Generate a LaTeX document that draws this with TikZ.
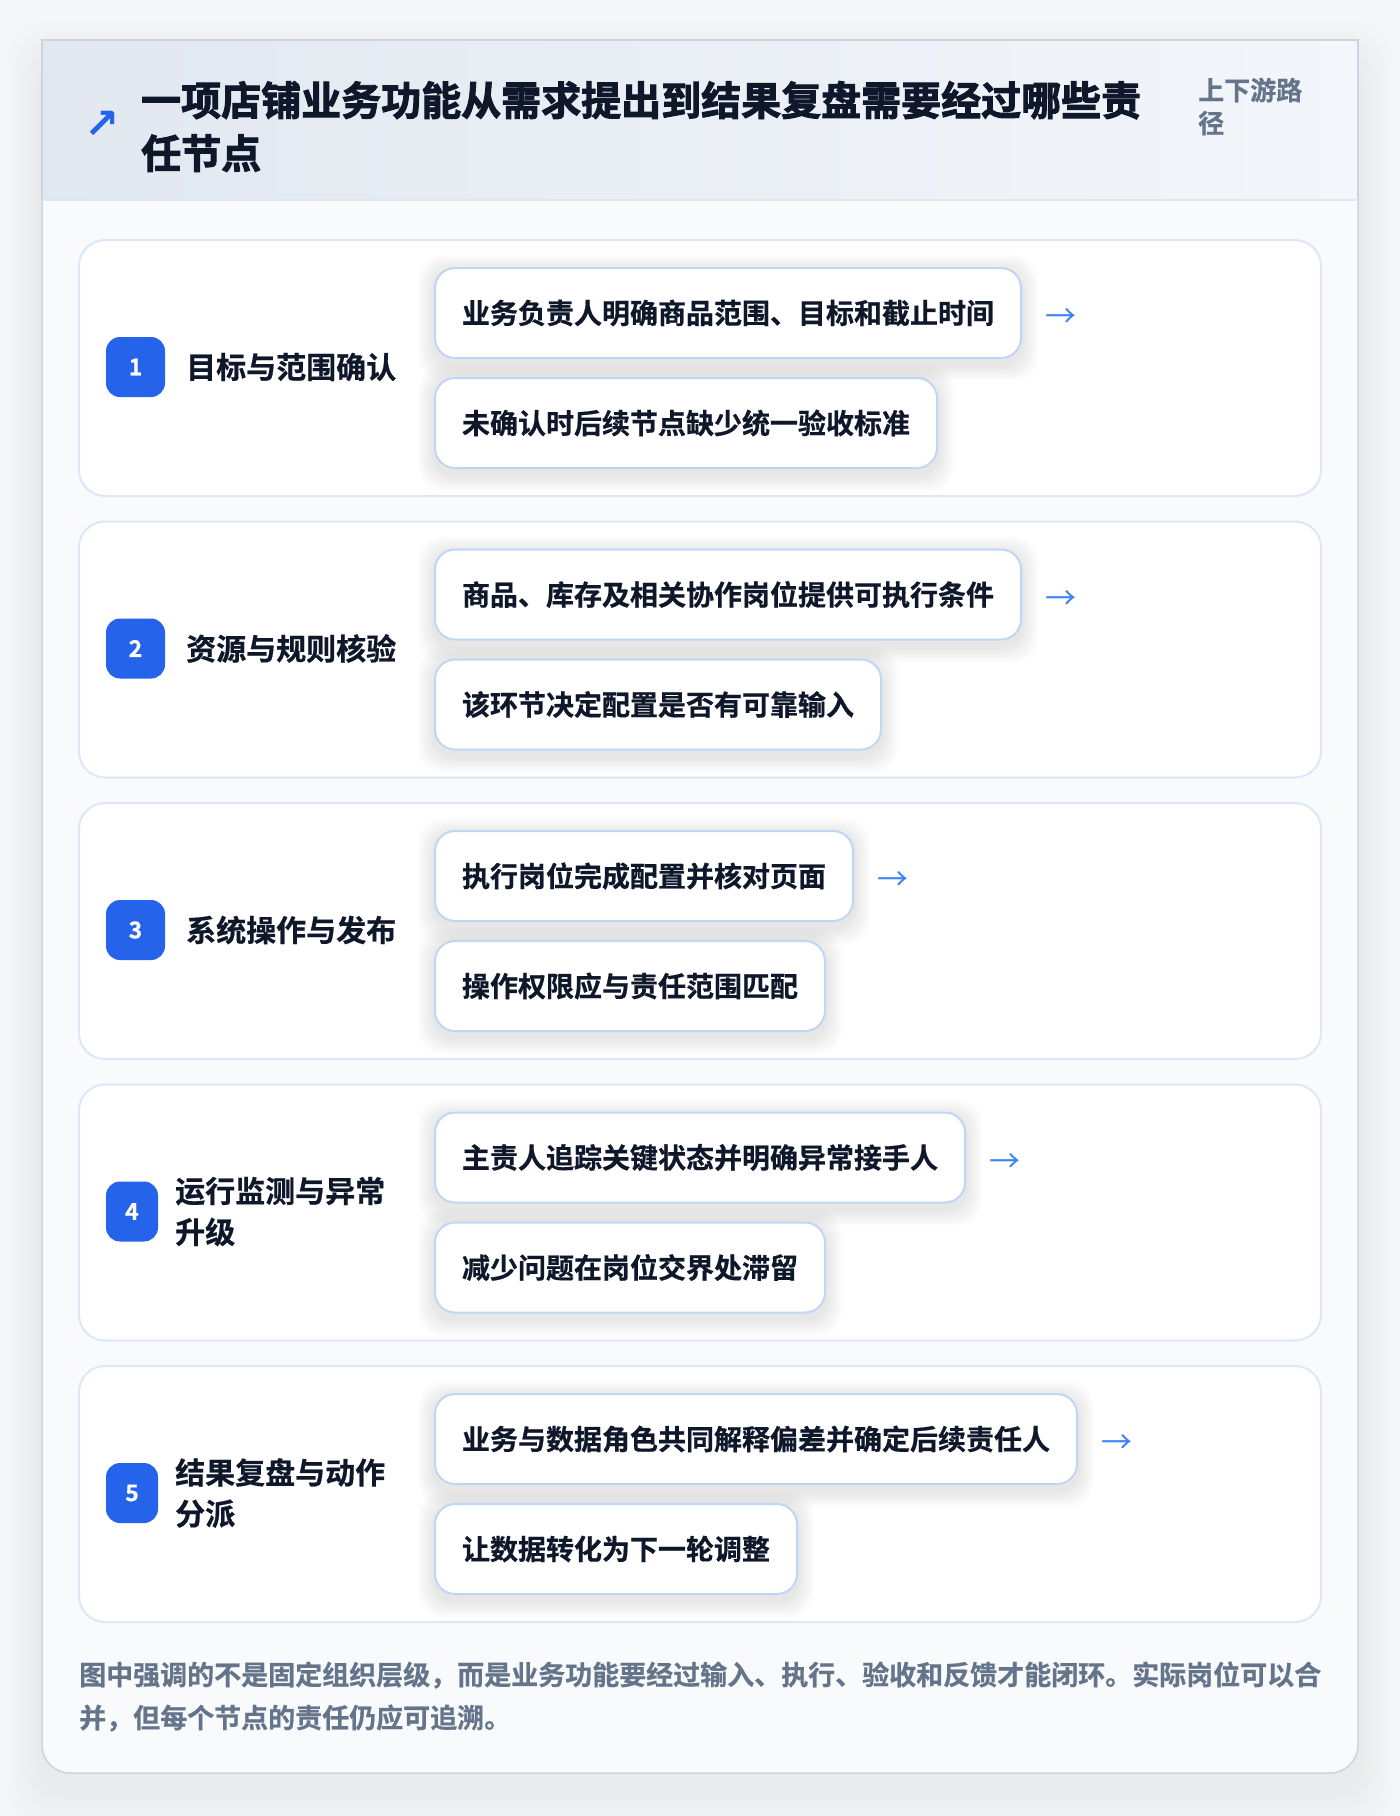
\documentclass[tikz,border=0pt]{standalone}
\usepackage{fontspec}
\setmainfont{Noto Sans CJK SC}[BoldFont={Noto Sans CJK SC Bold}, BoldFeatures={FakeBold=0.6}]
\newfontfamily\titlefont{Noto Sans CJK SC Bold}[FakeBold=2.4]
\newfontfamily\symfont{DejaVu Sans Bold}
\pgfdeclarelayer{base}
\pgfdeclarelayer{secl}
\pgfdeclarelayer{shad}
\pgfsetlayers{base,secl,shad,main}
\definecolor{bgc}{HTML}{F5F6F8}
\definecolor{cardbg}{HTML}{F8FAFC}
\definecolor{cardline}{HTML}{CBD5E1}
\definecolor{hdrL}{HTML}{E2E8F0}
\definecolor{hdrR}{HTML}{F3F6FA}
\definecolor{hdrline}{HTML}{DBE7F5}
\definecolor{secline}{HTML}{DCE8F8}
\definecolor{subline}{HTML}{BFD7F5}
\definecolor{ink}{HTML}{0F172A}
\definecolor{muted}{HTML}{64748B}
\definecolor{badgeblue}{HTML}{2563EB}
\definecolor{arrblue}{HTML}{3B82F6}
\tikzset{
  secbox/.style={draw=secline, line width=2pt, fill=white, rounded corners=26pt,
    minimum width=1242pt, minimum height=256pt, inner sep=0pt},
  badge/.style={fill=badgeblue, rounded corners=14pt, minimum height=60pt, inner sep=0pt,
    text=white, font=\bfseries\fontsize{23}{23}\selectfont},
  lab/.style={align=left, text=ink, inner sep=0pt, font=\bfseries\fontsize{30}{41}\selectfont},
  subbox/.style={draw=subline, line width=2pt, fill=white, rounded corners=20pt,
    minimum height=90pt, inner xsep=27pt, inner ysep=0pt, text=ink,
    font=\bfseries\fontsize{28}{34}\selectfont},
  arr/.style={text=arrblue, inner sep=0pt, font=\fontsize{31}{31}\selectfont},
  softshade/.style={fill=black, opacity=0.01, rounded corners=24pt},
}
\newcommand\boxshadow[1]{%
  \begin{pgfonlayer}{shad}
  \foreach \s in {2,4,...,16} {
    \fill[softshade] ([xshift=-\s pt, yshift=-6pt-\s pt]#1.south west) rectangle ([xshift=\s pt, yshift=-4pt+\s pt]#1.north east);
  }
  \end{pgfonlayer}}
\newcommand\mysection[7]{%
  \begin{pgfonlayer}{secl}
  \node[secbox, anchor=north west] (sec#1) at (78,#2) {};
  \end{pgfonlayer}
  \node[badge, minimum width=#3pt] (badge#1) at ({106+#3/2},{#2+128}) {#1};
  \node[lab, anchor=west] (lab#1) at (#4,{#2+128}) {#5};
  \node[subbox, anchor=north west] (a#1) at (434,{#2+28}) {#6};
  \node[subbox, anchor=north west] (b#1) at (434,{#2+138}) {#7};
  \node[arr, anchor=west] (arr#1) at ([xshift=23pt,yshift=-5pt]a#1.east) {→};
  \boxshadow{a#1}\boxshadow{b#1}
}
\begin{document}
\begin{tikzpicture}[x=1pt,y=-1pt]
\useasboundingbox (0,0) rectangle (1400,1816);
\begin{pgfonlayer}{base}
\fill[bgc] (0,0) rectangle (1400,1816);
% card shadow
\foreach \s in {3,6,...,36} {
  \fill[fill=black, opacity=0.005, rounded corners=36pt] (42-\s,40-\s+18) rectangle (1358+\s,1773+\s+18);
}
% card
\path[fill=cardbg, draw=cardline, line width=1.5pt, rounded corners=28pt] (42,40) rectangle (1358,1773);
% header
\shade[left color=hdrL, right color=hdrR] (42,40) rectangle (1358,200);
\draw[cardline, line width=1.5pt] (42,200) -- (42,40) -- (1358,40) -- (1358,200);
\draw[hdrline, line width=2pt] (42,200) -- (1358,200);
\end{pgfonlayer}
\node[text=badgeblue, inner sep=0pt, font=\symfont\fontsize{42}{42}\selectfont] (icon) at (102,125) {↗};
\node[anchor=west, align=left, text=ink, inner sep=0pt, font=\titlefont\fontsize{40}{53}\selectfont] (title) at (141,126.5)
  {一项店铺业务功能从需求提出到结果复盘需要经过哪些责\\任节点};
\node[anchor=west, align=left, text=muted, inner sep=0pt, font=\bfseries\fontsize{26}{33}\selectfont] (tag) at (1198,106.5)
  {上下游路\\径};
% sections
\mysection{1}{239}{59}{186}{目标与范围确认}{业务负责人明确商品范围、目标和截止时间}{未确认时后续节点缺少统一验收标准}
\mysection{2}{520.5}{59}{186}{资源与规则核验}{商品、库存及相关协作岗位提供可执行条件}{该环节决定配置是否有可靠输入}
\mysection{3}{802}{59}{186}{系统操作与发布}{执行岗位完成配置并核对页面}{操作权限应与责任范围匹配}
\mysection{4}{1083.5}{52}{175}{运行监测与异常\\升级}{主责人追踪关键状态并明确异常接手人}{减少问题在岗位交界处滞留}
\mysection{5}{1365}{52}{175}{结果复盘与动作\\分派}{业务与数据角色共同解释偏差并确定后续责任人}{让数据转化为下一轮调整}
% footer
\node[anchor=west, align=left, text=muted, inner sep=0pt, font=\bfseries\fontsize{27}{43}\selectfont] (foot) at (79,1696.5)
  {图中强调的不是固定组织层级，而是业务功能要经过输入、执行、验收和反馈才能闭环。实际岗位可以合\\并，但每个节点的责任仍应可追溯。};
\end{tikzpicture}
\end{document}
